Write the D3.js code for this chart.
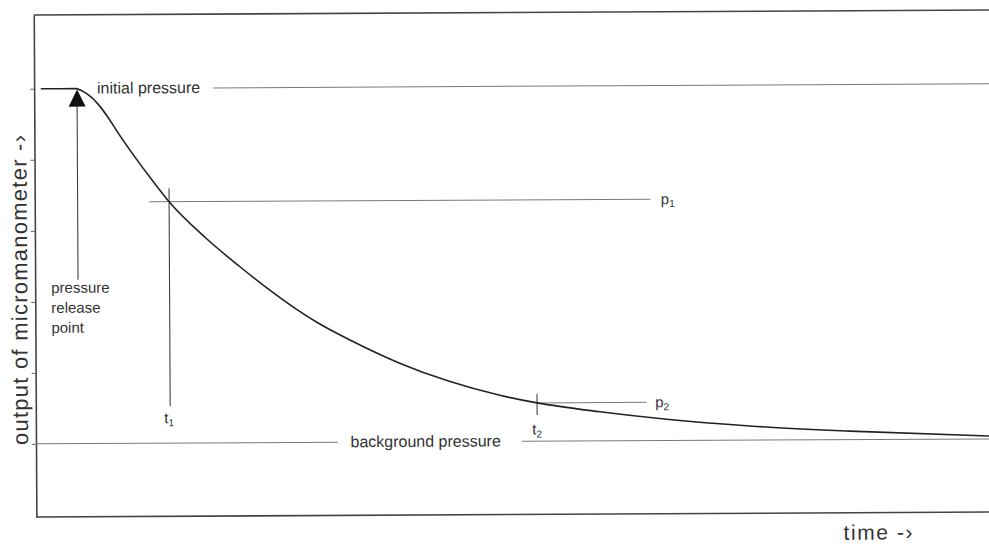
<!DOCTYPE html>
<html>
<head>
<meta charset="utf-8">
<script src="https://cdn.jsdelivr.net/npm/d3@7"></script>
<style>
    body { margin: 0; background: #fff; }
    svg { display: block; }
    text { font-family: "Liberation Sans", Arial, sans-serif; fill: #333; }
</style>
</head>
<body>
<svg id="chart" width="989" height="546"></svg>
<script>
// trace: time in % of the frame width, output in tick units
const curveTime   = [0.7, 4.4, 5.0, 5.7, 6.7, 7.8, 8.8, 10.6, 12.3, 14.1, 17.9, 21.4, 24.9, 27.7,
                     29.8, 33.0, 38.2, 43.4, 48.7, 52.6, 59.2, 66.2, 74.9, 85.4, 100];
const curveOutput = [6.0, 6.0, 5.97, 5.91, 5.78, 5.58, 5.37, 5.02, 4.71, 4.40, 3.89, 3.49, 3.12, 2.85,
                     2.67, 2.44, 2.11, 1.85, 1.65, 1.54, 1.41, 1.30, 1.20, 1.12, 1.04];
const outputTicks = [1, 2, 3, 4, 5, 6];
const initialPressure = 6.0;
const backgroundPressure = 1.0;
const markTimes   = [14.1, 52.6];   // t1, t2
const markOutputs = [4.40, 1.54];   // p1, p2
const releaseTime = 4.5;

const width = 989, height = 546;
const svg = d3.select('#chart');

// the scan is tilted a little, so everything sits in one rotated group
const g = svg.append('g').attr('transform', 'rotate(-0.3, 36, 444)');

const x = d3.scaleLinear().domain([0, 100]).range([36, 989]);
const y = d3.scaleLinear().domain([-0.03, 7.04]).range([517, 15]);

// frame: left axis with small ticks, plus top and bottom rules
const axis = g.append('g')
    .attr('transform', `translate(${x(0)},0)`)
    .call(d3.axisLeft(y).tickValues(outputTicks).tickSize(4).tickSizeOuter(0).tickFormat(''));
axis.select('.domain').attr('stroke', '#444').attr('stroke-width', 1.6);
axis.selectAll('.tick line').attr('stroke', '#666').attr('stroke-width', 1);

[y.domain()[0], y.domain()[1]].forEach(v => {
    g.append('line')
        .attr('x1', x(0)).attr('x2', width + 20)
        .attr('y1', y(v)).attr('y2', y(v))
        .attr('stroke', '#444').attr('stroke-width', 1.6);
});

// reference lines
const refColor = '#7a7a7a';
function hline(t0, t1, v) {
    g.append('line')
        .attr('x1', x(t0)).attr('x2', x(t1))
        .attr('y1', y(v)).attr('y2', y(v))
        .attr('stroke', refColor).attr('stroke-width', 1);
}
function vline(t, v0, v1) {
    g.append('line')
        .attr('x1', x(t)).attr('x2', x(t))
        .attr('y1', y(v0)).attr('y2', y(v1))
        .attr('stroke', '#444').attr('stroke-width', 1.1);
}

hline(18.8, 102, initialPressure);
hline(0, 31.7, backgroundPressure);
hline(51.0, 102, backgroundPressure);
hline(12.0, 64.6, markOutputs[0]);
hline(markTimes[1], 64.1, markOutputs[1]);
vline(markTimes[0], 4.59, 1.52);
vline(markTimes[1], 1.67, 1.37);

// the pressure trace
const line = d3.line()
    .x((d, i) => x(curveTime[i]))
    .y(d => y(d))
    .curve(d3.curveMonotoneX);

g.append('path')
    .datum(curveOutput)
    .attr('d', line)
    .attr('fill', 'none')
    .attr('stroke', '#222')
    .attr('stroke-width', 1.6);

// release arrow
const tipX = x(releaseTime), tipY = y(initialPressure) + 1;
g.append('line')
    .attr('x1', tipX).attr('x2', tipX)
    .attr('y1', tipY + 16).attr('y2', y(3.31))
    .attr('stroke', '#444').attr('stroke-width', 1.1);
g.append('path')
    .attr('d', `M${tipX},${tipY} L${tipX - 8.5},${tipY + 17} L${tipX + 8.5},${tipY + 17} Z`)
    .attr('fill', '#111');

// labels
const labelSize = 16;
g.append('text')
    .attr('x', x(6.6)).attr('y', y(initialPressure) + 5)
    .attr('font-size', labelSize)
    .text('initial pressure');

g.append('text')
    .attr('x', x(33.0)).attr('y', y(backgroundPressure) + 5)
    .attr('font-size', labelSize)
    .text('background pressure');

['pressure', 'release', 'point'].forEach((w, i) => {
    g.append('text')
        .attr('x', 52).attr('y', 293 + i * 20)
        .attr('font-size', 15)
        .text(w);
});

function subLabel(px, py, base, sub) {
    const t = g.append('text').attr('x', px).attr('y', py).attr('font-size', 15);
    t.append('tspan').text(base);
    t.append('tspan').attr('font-size', 10).attr('dy', 3).text(sub);
}
subLabel(x(65.7), y(markOutputs[0]) + 5, 'p', '1');
subLabel(x(65.0), y(markOutputs[1]) + 5, 'p', '2');
subLabel(x(markTimes[0]) - 6, 424, 't', '1');
subLabel(x(markTimes[1]) - 5, 437, 't', '2');

// axis titles
g.append('text')
    .attr('transform', 'translate(28,290) rotate(-90)')
    .attr('text-anchor', 'middle')
    .attr('font-size', 22)
    .attr('textLength', 310)
    .attr('lengthAdjust', 'spacing')
    .text('output of micromanometer -\u203a');

g.append('text')
    .attr('x', 843).attr('y', 544)
    .attr('font-size', 21)
    .attr('textLength', 69)
    .attr('lengthAdjust', 'spacing')
    .text('time -\u203a');
</script>
</body>
</html>
